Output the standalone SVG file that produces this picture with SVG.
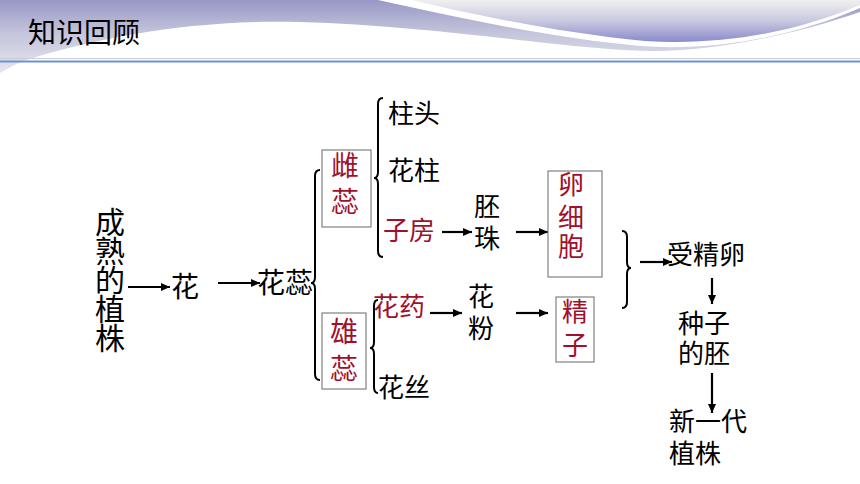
<svg xmlns="http://www.w3.org/2000/svg" width="860" height="484" viewBox="0 0 860 484">
<defs>
<linearGradient id="gLeft" x1="0" y1="0" x2="0" y2="1">
<stop offset="0" stop-color="#9898c6"/>
<stop offset="0.45" stop-color="#c4c4dc"/>
<stop offset="1" stop-color="#e6e6ee"/>
</linearGradient>
<linearGradient id="gRight" x1="0" y1="0" x2="0" y2="1">
<stop offset="0" stop-color="#f0f0f0"/>
<stop offset="0.5" stop-color="#c8c8e0"/>
<stop offset="1" stop-color="#8a8acc"/>
</linearGradient>
<marker id="ah" markerUnits="userSpaceOnUse" markerWidth="9" markerHeight="8" refX="9" refY="4" viewBox="0 0 9 8" orient="auto">
<path d="M0,0 L9,4 L0,8 z" fill="#000"/>
</marker>
<style>
.t{font-family:"Noto Sans CJK SC","Noto Sans",sans-serif;fill:#000;}
.r{fill:#a0102a;}
.s26{font-size:26px;}
.s28{font-size:28px;}
.s30{font-size:30px;}
.box{fill:none;stroke:#808080;stroke-width:1.2;}
.br{fill:none;stroke:#000;stroke-width:2;}
.ar{stroke:#000;stroke-width:2.2;fill:none;marker-end:url(#ah);}
</style>
</defs>
<rect width="860" height="484" fill="#fff"/>
<g id="header">
<path d="M0,0 H860 V12 C790,36 710,52 650,51 C570,50 440,26 300,22 C200,19 100,36 20,62 L0,73 Z" fill="url(#gLeft)"/>
<path d="M378,0 C450,16 550,38 640,46 C720,52 800,34 860,8 V0 Z" fill="#fff"/>
<path d="M412,0 C470,14 560,33 645,41 C730,46 800,30 860,5 V0 Z" fill="url(#gRight)"/>
<line x1="0" y1="58.5" x2="860" y2="58.5" stroke="#c8ccd8" stroke-width="1"/>
<line x1="0" y1="61.5" x2="860" y2="61.5" stroke="#6f8fd8" stroke-width="2"/>
<text class="t s28" x="28" y="43">知识回顾</text>
</g>
<g id="connectors">
<line class="ar" x1="128" y1="287" x2="170" y2="287"/>
<line class="ar" x1="218" y1="283" x2="260" y2="283"/>
<line class="ar" x1="442" y1="232" x2="472" y2="232"/>
<line class="ar" x1="516" y1="232" x2="548" y2="232"/>
<line class="ar" x1="430" y1="313" x2="462" y2="313"/>
<line class="ar" x1="516" y1="313" x2="548" y2="313"/>
<line class="ar" x1="640" y1="262" x2="672" y2="262"/>
<line class="ar" x1="712" y1="278" x2="712" y2="304"/>
<line class="ar" x1="712" y1="373" x2="712" y2="413"/>
<path class="br" d="M320,170 Q315,170 315,176 L315,277 Q315,283 311,283 Q315,283 315,289 L315,374 Q315,380 320,380"/>
<path class="br" d="M383,98 Q378,98 378,104 L378,172 Q378,178 374,178 Q378,178 378,184 L378,251 Q378,257 383,257"/>
<path class="br" d="M378,300 Q374,300 374,306 L374,342 Q374,348 370,348 Q374,348 374,354 L374,387 Q374,393 378,393"/>
<path class="br" d="M622,231 Q627,231 627,237 L627,262 Q627,268 631,268 Q627,268 627,274 L627,302 Q627,308 622,308"/>
</g>
<g id="plant">
<text class="t s30" text-anchor="middle"><tspan x="110" y="233">成</tspan><tspan x="110" y="262">熟</tspan><tspan x="110" y="291">的</tspan><tspan x="110" y="320">植</tspan><tspan x="110" y="349">株</tspan></text>
</g>
<g id="flower"><text class="t s28" x="171" y="297">花</text></g>
<g id="stamens"><text class="t s28" x="257" y="293">花蕊</text></g>
<g id="pistil">
<rect class="box" x="322" y="150" width="49" height="77"/>
<text class="t r s28" text-anchor="middle"><tspan x="345" y="176">雌</tspan><tspan x="345" y="212">蕊</tspan></text>
</g>
<g id="stamen">
<rect class="box" x="322" y="313" width="44" height="76"/>
<text class="t r s28" text-anchor="middle"><tspan x="344" y="342">雄</tspan><tspan x="344" y="379">蕊</tspan></text>
</g>
<g id="stigma"><text class="t s26" x="388" y="123">柱头</text></g>
<g id="style"><text class="t s26" x="388" y="180">花柱</text></g>
<g id="ovary"><text class="t r s26" x="383" y="240">子房</text></g>
<g id="anther"><text class="t r s26" x="373" y="316">花药</text></g>
<g id="filament"><text class="t s26" x="378" y="397">花丝</text></g>
<g id="ovule"><text class="t s26" text-anchor="middle"><tspan x="487" y="216">胚</tspan><tspan x="487" y="248">珠</tspan></text></g>
<g id="pollen"><text class="t s26" text-anchor="middle"><tspan x="481" y="306">花</tspan><tspan x="481" y="338">粉</tspan></text></g>
<g id="egg">
<rect class="box" x="548" y="171" width="54" height="106"/>
<text class="t r s26" text-anchor="middle"><tspan x="571" y="194">卵</tspan><tspan x="571" y="227">细</tspan><tspan x="571" y="256">胞</tspan></text>
</g>
<g id="sperm">
<rect class="box" x="556" y="297" width="38" height="65"/>
<text class="t r s26" text-anchor="middle"><tspan x="575" y="321">精</tspan><tspan x="575" y="355">子</tspan></text>
</g>
<g id="zygote"><text class="t s26" x="667" y="264">受精卵</text></g>
<g id="embryo"><text class="t s26"><tspan x="678" y="333">种子</tspan><tspan x="678" y="363">的胚</tspan></text></g>
<g id="newplant"><text class="t s26"><tspan x="669" y="431">新一代</tspan><tspan x="669" y="463">植株</tspan></text></g>
</svg>
